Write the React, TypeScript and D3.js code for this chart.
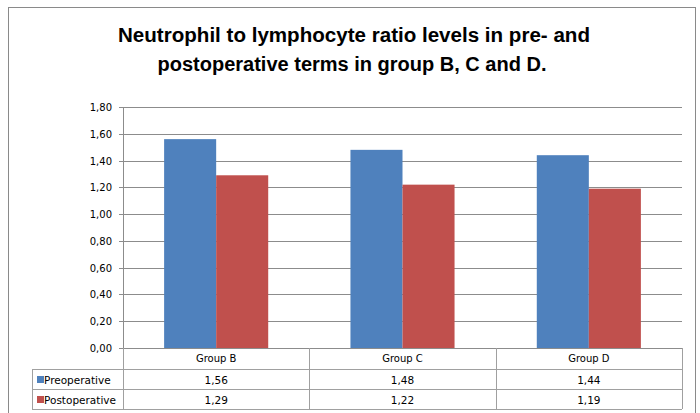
import React from "react";
import * as d3 from "d3";

const categories = ["Group B", "Group C", "Group D"];
const seriesNames = ["Preoperative", "Postoperative"];
const preoperative = [1.56, 1.48, 1.44];
const postoperative = [1.29, 1.22, 1.19];
const yTicks = [0, 0.2, 0.4, 0.6, 0.8, 1.0, 1.2, 1.4, 1.6, 1.8];
const colors = ["#4F81BD", "#C0504D"];

const fmt = (v: number) => v.toFixed(2).replace(".", ",");

export default function App() {
  const W = 700, H = 413;
  const left = 123, right = 682, top = 107, bottom = 348;
  const y = d3.scaleLinear().domain([0, 1.8]).range([bottom, top]);
  const x = d3.scaleBand<string>().domain(categories).range([left, right]).paddingInner(0).paddingOuter(0);
  const inner = d3.scaleBand<string>().domain(seriesNames).range([0, x.bandwidth()]).paddingInner(0).paddingOuter(0.79);
  const values = [preoperative, postoperative];
  const rowY = [bottom, 369, 389, 409];
  const tableLeft = 32;
  const font = "'DejaVu Sans', Verdana, sans-serif";
  const grid = "#8c8c8c";
  const tl = "#a0a0a0";
  const titleFont = "'Liberation Sans', Arial, sans-serif";
  return (
    <svg width={W} height={H} style={{ position: "absolute", left: 0, top: 0 }}>
      <rect x={0} y={0} width={W} height={H} fill="#fff" />
      <rect x={8.5} y={7.5} width={687} height={420} fill="none" stroke="#8a8a8a" />
      <text x={354} y={42} textAnchor="middle" fontFamily={titleFont} fontWeight="bold" fontSize={20} fill="#000" textLength={472} lengthAdjust="spacingAndGlyphs">
        Neutrophil to lymphocyte ratio levels in pre- and
      </text>
      <text x={352} y={71} textAnchor="middle" fontFamily={titleFont} fontWeight="bold" fontSize={20} fill="#000">
        postoperative terms in group B, C and D.
      </text>
      {yTicks.map((t) => (
        <g key={t}>
          <line x1={left - 4} x2={right} y1={Math.round(y(t)) + 0.5} y2={Math.round(y(t)) + 0.5} stroke={grid} />
          <text x={112} y={y(t) + 4} textAnchor="end" fontFamily={font} fontSize={10} fill="#000">
            {fmt(t)}
          </text>
        </g>
      ))}
      <line x1={left + 0.5} x2={left + 0.5} y1={top} y2={bottom} stroke={grid} />
      {categories.map((c, i) => (
        <g key={c}>
          {seriesNames.map((s, j) => (
            <rect key={s} x={(x(c) ?? 0) + (inner(s) ?? 0)} y={y(values[j][i])} width={inner.bandwidth()} height={bottom - y(values[j][i])} fill={colors[j]} />
          ))}
        </g>
      ))}
      <g stroke={tl} fill="none">
        <line x1={left} x2={right} y1={bottom + 0.5} y2={bottom + 0.5} stroke={grid} />
        <line x1={tableLeft} x2={right} y1={rowY[1] + 0.5} y2={rowY[1] + 0.5} />
        <line x1={tableLeft} x2={right} y1={rowY[2] + 0.5} y2={rowY[2] + 0.5} />
        <line x1={tableLeft} x2={right} y1={rowY[3] + 0.5} y2={rowY[3] + 0.5} />
        <line x1={tableLeft + 0.5} x2={tableLeft + 0.5} y1={rowY[1]} y2={rowY[3]} />
        <line x1={left + 0.5} x2={left + 0.5} y1={bottom} y2={rowY[3]} />
        {categories.map((c) => (
          <line key={c} x1={Math.round((x(c) ?? 0) + x.bandwidth()) + 0.5} x2={Math.round((x(c) ?? 0) + x.bandwidth()) + 0.5} y1={bottom} y2={rowY[3]} />
        ))}
      </g>
      {categories.map((c) => (
        <text key={c} x={(x(c) ?? 0) + x.bandwidth() / 2} y={rowY[0] + 14} textAnchor="middle" fontFamily={font} fontSize={10} fill="#000">
          {c}
        </text>
      ))}
      {seriesNames.map((s, j) => (
        <g key={s}>
          <rect x={37} y={rowY[j + 1] + 7} width={7} height={7} fill={colors[j]} />
          <text x={44} y={rowY[j + 1] + 14.5} fontFamily={font} fontSize={10.5} fill="#000">
            {s}
          </text>
          {categories.map((c, i) => (
            <text key={c} x={(x(c) ?? 0) + x.bandwidth() / 2} y={rowY[j + 1] + 14.5} textAnchor="middle" fontFamily={font} fontSize={10.5} fill="#000">
              {fmt(values[j][i])}
            </text>
          ))}
        </g>
      ))}
    </svg>
  );
}
